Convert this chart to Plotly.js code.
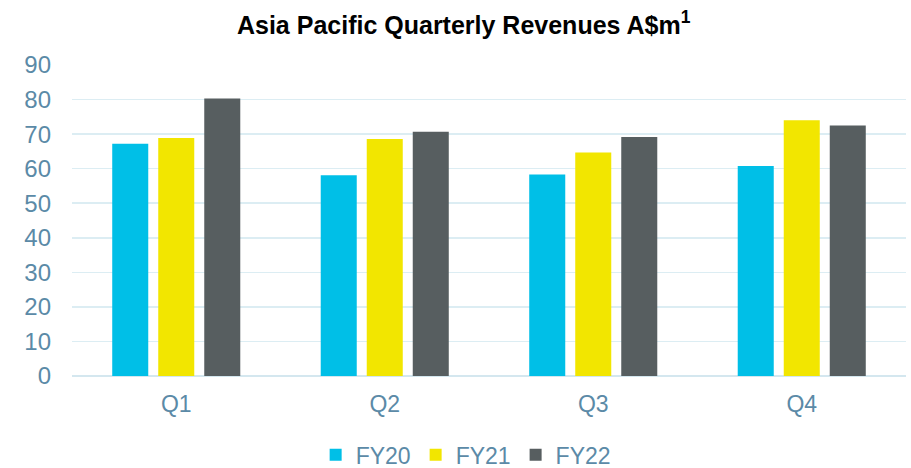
<!DOCTYPE html>
<html>
<head>
<meta charset="utf-8">
<script src="https://cdn.plot.ly/plotly-3.0.1.min.js"></script>
<style>html,body{margin:0;padding:0;background:#fff;}#chart{width:911px;height:468px;}</style>
</head>
<body>
<div id="chart"></div>
<script>
const quarters = ["Q1", "Q2", "Q3", "Q4"];
const fy20 = [67.2, 58.1, 58.3, 60.8];
const fy21 = [68.9, 68.6, 64.7, 74.0];
const fy22 = [80.3, 70.7, 69.2, 72.5];
const seriesNames = ["FY20", "FY21", "FY22"];
const seriesColors = ["#00BFE7", "#F2E600", "#575E60"];
const yTicks = [0, 10, 20, 30, 40, 50, 60, 70, 80, 90];

const labelColor = "#5B8AA7";
const font = "Liberation Sans, Arial, sans-serif";

const data = [fy20, fy21, fy22].map((vals, i) => ({
  type: "bar",
  x: quarters,
  y: vals,
  name: seriesNames[i],
  marker: { color: seriesColors[i], line: { width: 0 } },
  hoverinfo: "x+y+name"
}));

const layout = {
  width: 911,
  height: 468,
  margin: { l: 72, r: 5, t: 65, b: 92, autoexpand: false },
  paper_bgcolor: "#ffffff",
  plot_bgcolor: "#ffffff",
  barmode: "group",
  bargap: 0.338,
  bargroupgap: 0.217,
  title: {
    text: "<b>Asia Pacific Quarterly Revenues A$m<sup>1</sup></b>",
    font: { family: font, size: 25, color: "#000000" },
    x: 0.509,
    xanchor: "center",
    y: 0.947,
    yanchor: "middle"
  },
  xaxis: {
    type: "category",
    tickfont: { family: font, size: 23, color: labelColor },
    showgrid: false,
    showline: false,
    ticks: "",
    ticklabelstandoff: 12
  },
  yaxis: {
    range: [0, 90],
    tickvals: yTicks,
    ticktext: yTicks.map(String),
    tickfont: { family: font, size: 24, color: labelColor },
    showgrid: true,
    gridcolor: "#DCEDF3",
    gridwidth: 1.5,
    zeroline: true,
    zerolinecolor: "#D4E7EF",
    zerolinewidth: 1.5,
    showline: false,
    ticks: "",
    ticklabelstandoff: 20
  },
  showlegend: true,
  legend: {
    orientation: "h",
    x: 0.472,
    xanchor: "center",
    yref: "container",
    y: 0.028,
    yanchor: "middle",
    font: { family: font, size: 23, color: labelColor },
    itemwidth: 30,
    bgcolor: "rgba(0,0,0,0)"
  }
};

Plotly.newPlot("chart", data, layout, { displayModeBar: false, staticPlot: true });
</script>
</body>
</html>
